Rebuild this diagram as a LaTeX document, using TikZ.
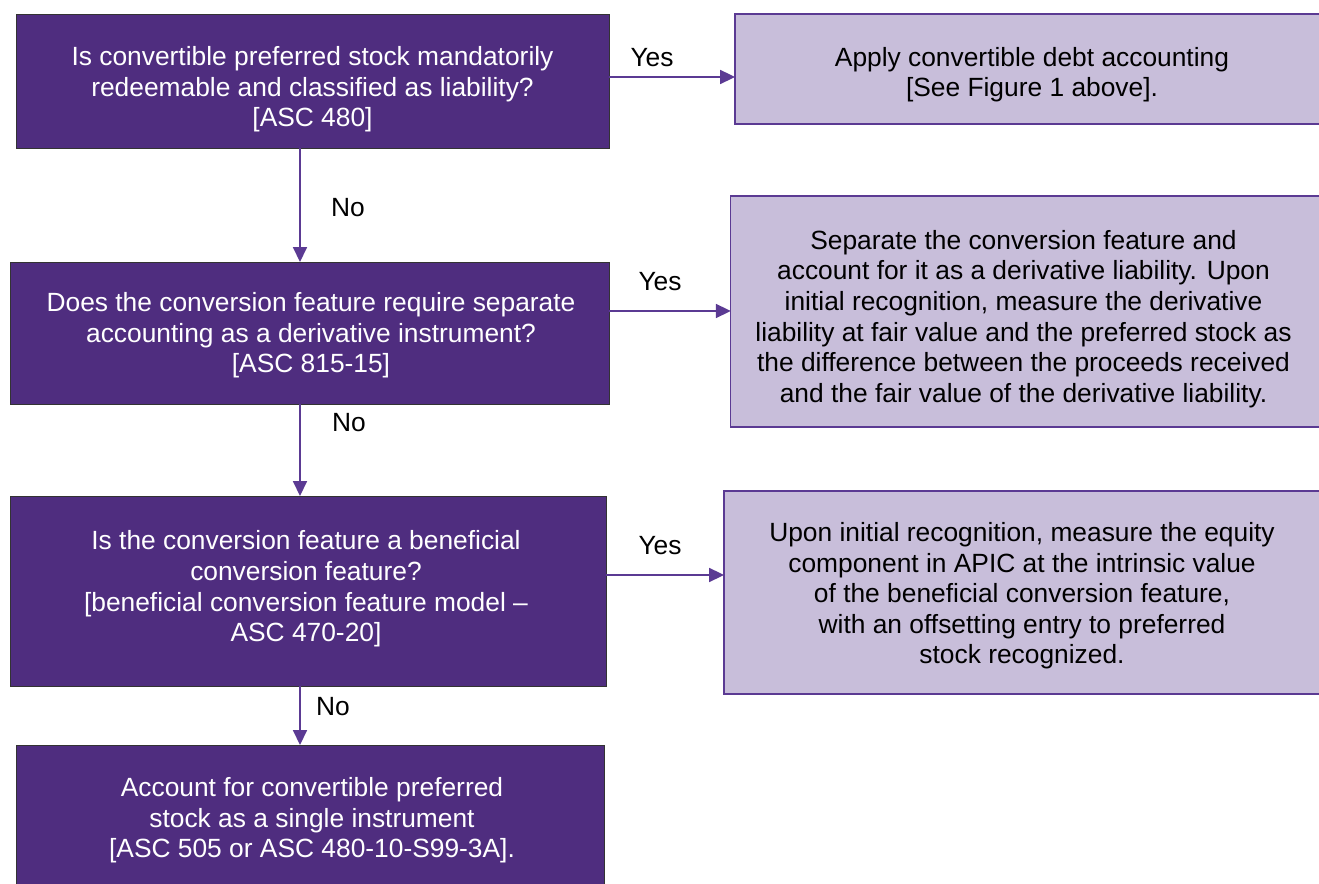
\documentclass[tikz,border=0pt]{standalone}
\usepackage{fontspec}
\setmainfont{Liberation Sans}
\usetikzlibrary{arrows.meta}
\definecolor{darkpurple}{HTML}{4F2D7F}
\definecolor{lightpurple}{HTML}{C8BEDA}
\definecolor{linepurple}{HTML}{5B3A93}

\begin{document}
\begin{tikzpicture}[x=0.02cm, y=-0.02cm,
    question/.style={draw=black!80, line width=0.5pt, fill=darkpurple, inner sep=0pt, outer sep=0pt},
    answer/.style={draw=linepurple, line width=0.7pt, fill=lightpurple, inner sep=0pt, outer sep=0pt},
    qtext/.style={text=white, align=center, inner sep=0pt, font=\fontsize{15}{17.4}\selectfont},
    atext/.style={text=black, align=center, inner sep=0pt, font=\fontsize{15}{17.4}\selectfont},
    flow/.style={draw=linepurple, line width=0.8pt, -{Triangle[length=8.5pt,width=8pt]}},
    lbl/.style={font=\fontsize{15}{17.4}\selectfont}]
      \useasboundingbox (0,0) rectangle (1319,884);
      \clip (0,0) rectangle (1319,884);
      \node (A) at (312.5,81) [question, minimum width=11.86cm, minimum height=2.68cm] {};
      \node (A-text) at (312.5,89.5) [qtext] {Is convertible preferred stock mandatorily\\ redeemable and classified as liability?\\ {[ASC 480]}};
      \node (B) at (1032,69) [answer, minimum width=11.88cm, minimum height=2.2cm] {};
      \node (B-text) at (1032,74.5) [atext] {Apply convertible debt accounting\\ {[See Figure 1 above].}};
      \node (C) at (309.5,333) [question, minimum width=11.98cm, minimum height=2.84cm] {};
      \node (C-text) at (311,335.5) [qtext] {Does the conversion feature require separate\\ accounting as a derivative instrument?\\ {[ASC 815-15]}};
      \node (D) at (1025.5,311.5) [answer, minimum width=11.79cm, minimum height=4.62cm] {};
      \node (D-text) at (1023.5,319) [atext] {Separate the conversion feature and\\ account for it as a derivative liability. Upon\\ initial recognition, measure the derivative\\ liability at fair value and the preferred stock as\\ the difference between the proceeds received\\ and the fair value of the derivative liability.};
      \node (E) at (308,591) [question, minimum width=11.92cm, minimum height=3.8cm] {};
      \node (E-text) at (306,589) [qtext] {Is the conversion feature a beneficial\\ conversion feature?\\ {[beneficial conversion feature model --}\\ ASC 470-20]};
      \node (F) at (1022,592.5) [answer, minimum width=11.92cm, minimum height=4.06cm] {};
      \node (F-text) at (1022,596) [atext] {Upon initial recognition, measure the equity\\ component in APIC at the intrinsic value\\ of the beneficial conversion feature,\\ with an offsetting entry to preferred\\ stock recognized.};
      \node (G) at (310,830) [question, minimum width=11.76cm, minimum height=3.4cm] {};
      \node (G-text) at (312,820.5) [qtext] {Account for convertible preferred\\ stock as a single instrument\\ {[ASC 505 or ASC 480-10-S99-3A].}};
      \coordinate (down) at (300,0);
      \coordinate (row1) at (0,77);
      \coordinate (row2) at (0,311);
      \coordinate (row3) at (0,575);
      \draw[flow] (A.east |- row1) -- (B.west |- row1);
      \draw[flow] (C.east |- row2) -- (D.west |- row2);
      \draw[flow] (E.east |- row3) -- (F.west |- row3);
      \draw[flow] (A.south -| down) -- (C.north -| down);
      \draw[flow] (C.south -| down) -- (E.north -| down);
      \draw[flow] (E.south -| down) -- (G.north -| down);
      \node (yes1) at (652,58) [lbl] {Yes};
      \node (yes2) at (660,282) [lbl] {Yes};
      \node (yes3) at (660,546) [lbl] {Yes};
      \node (no1) at (348,208) [lbl] {No};
      \node (no2) at (349,423) [lbl] {No};
      \node (no3) at (333,707) [lbl] {No};
\end{tikzpicture}
\end{document}
